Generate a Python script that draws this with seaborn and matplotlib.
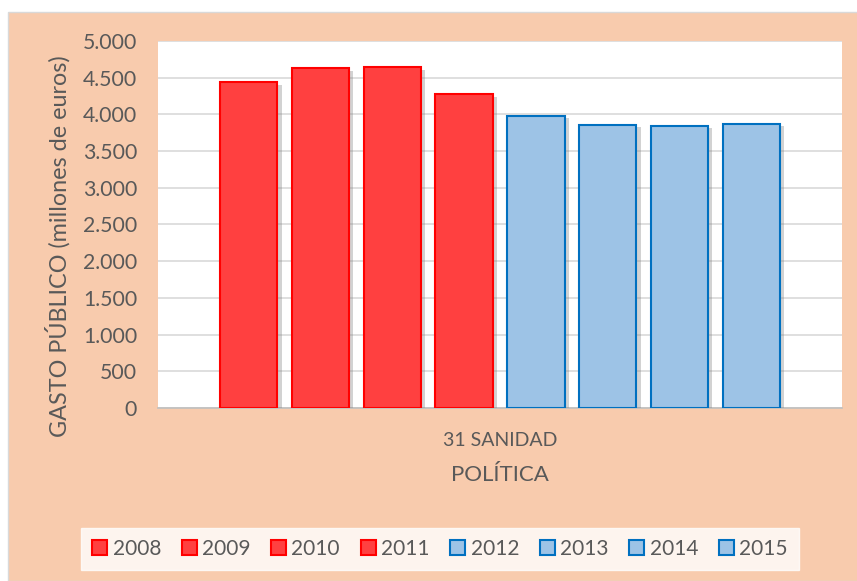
import numpy as np
import pandas as pd
import matplotlib.pyplot as plt
import seaborn as sns
from matplotlib.patches import Rectangle, Patch
from matplotlib import patheffects as pe
from matplotlib.ticker import FuncFormatter

years = ['2008', '2009', '2010', '2011', '2012', '2013', '2014', '2015']
gasto = [4440, 4632, 4646, 4274, 3983, 3860, 3846, 3874]
politica = '31 SANIDAD'

red_fill, red_edge = '#FF4040', '#FF0000'
blue_fill, blue_edge = '#9DC3E6', '#0070C0'
fills = [red_fill] * 4 + [blue_fill] * 4
edges = [red_edge] * 4 + [blue_edge] * 4

df = pd.DataFrame({'politica': politica, 'year': years, 'gasto': gasto})

sns.set_style('white')
plt.rcParams['font.family'] = ['Lato', 'DejaVu Sans']
txt = '#595959'

fig = plt.figure(figsize=(8.57, 5.81), dpi=100)
fig.patch.set_facecolor('white')
fig.patches.append(Rectangle((8 / 857, 0), 1, 1 - 12 / 581, transform=fig.transFigure,
                             facecolor='#F8CBAD', edgecolor='#D9D9D9', lw=1, zorder=-10))

ax = fig.add_axes([158 / 857, 1 - 408 / 581, 684 / 857, 367 / 581])
sns.barplot(data=df, x='politica', y='gasto', hue='year', palette=fills, saturation=1,
            width=0.84, gap=0.2, ax=ax, legend=False, zorder=3)
for bar, ec in zip(ax.patches, edges):
    bar.set_edgecolor(ec)
    bar.set_linewidth(1.5)
    bar.set_path_effects([pe.SimplePatchShadow(offset=(3, -2), shadow_rgbFace='#808080', alpha=0.35),
                          pe.Normal()])

ax.set_ylim(0, 5000)
ax.set_yticks(np.arange(0, 5001, 500))
ax.yaxis.set_major_formatter(FuncFormatter(lambda v, p: f'{int(v):,}'.replace(',', '.')))
ax.grid(axis='y', color='#D9D9D9', lw=1.2, zorder=0)
ax.set_axisbelow(True)
for s in ['top', 'right', 'left']:
    ax.spines[s].set_visible(False)
ax.spines['bottom'].set_color('#BFBFBF')
ax.spines['bottom'].set_linewidth(1.2)
ax.tick_params(axis='y', length=0, labelsize=15.3, labelcolor=txt, pad=15)
ax.tick_params(axis='x', length=0, labelsize=14, labelcolor=txt, pad=17)
ax.set_ylabel('GASTO PÚBLICO (millones de euros)', fontsize=16.8, color=txt, labelpad=8)
ax.yaxis.set_label_coords(-0.128, 0.441)
ax.set_xlabel('POLÍTICA', fontsize=16, color=txt, labelpad=12)

handles = [Patch(facecolor=f, edgecolor=e, lw=1.5) for f, e in zip(fills, edges)]
leg = fig.legend(handles, years, ncol=8, loc='center', bbox_to_anchor=(440 / 857, 1 - 549 / 581),
                 frameon=True, fancybox=False, fontsize=15, handlelength=0.72, handleheight=0.72,
                 handletextpad=0.25, columnspacing=1.0, borderpad=0.55, labelcolor=txt)
leg.get_frame().set_edgecolor('white')
leg.get_frame().set_facecolor('white')

fig.savefig('out.png', dpi=100)
